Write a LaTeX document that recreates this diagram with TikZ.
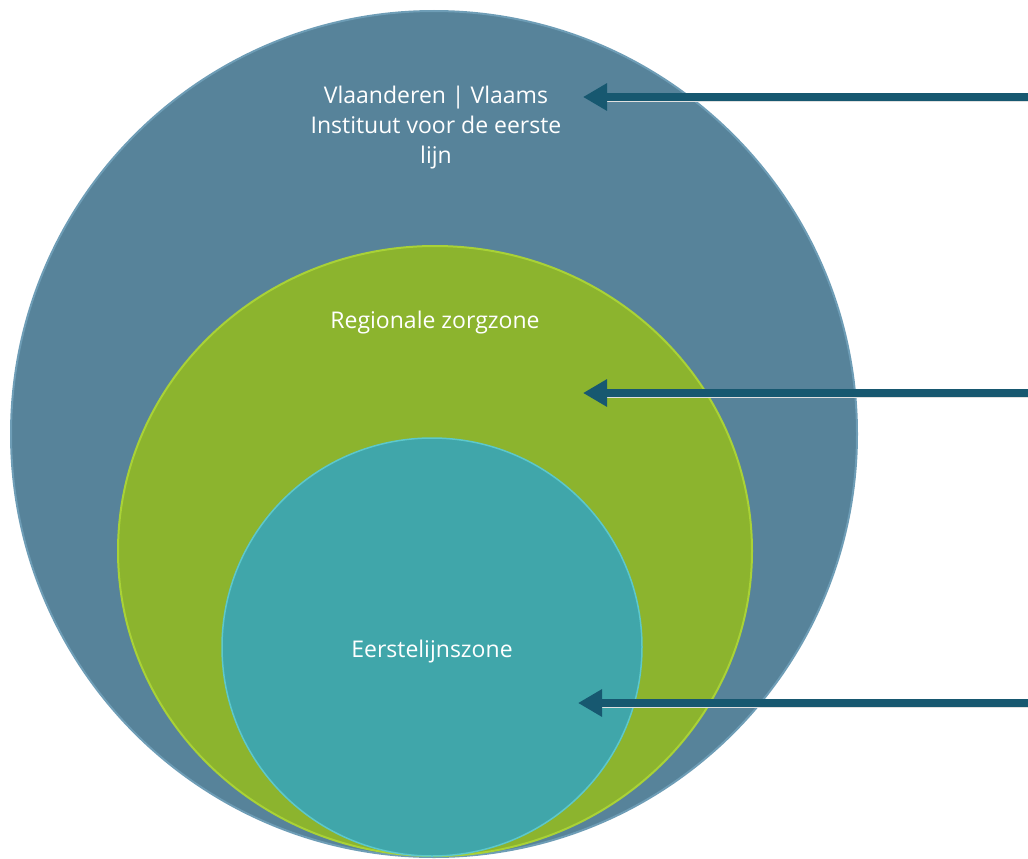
\documentclass[tikz,border=0pt]{standalone}
\usepackage{fontspec}
\setmainfont{Open Sans}
\usetikzlibrary{arrows.meta,positioning}
\tikzset{every picture/.style={line width=0.75pt}}

\definecolor{vlaamsblue}{HTML}{57839A}
\definecolor{vlaamsrim}{HTML}{6E9DB6}
\definecolor{regiogreen}{HTML}{8CB42E}
\definecolor{regiorim}{HTML}{A9D236}
\definecolor{eersteteal}{HTML}{40A6AA}
\definecolor{eersterim}{HTML}{5CC8CC}
\definecolor{pointerblue}{HTML}{175870}

\tikzset{
    zonelabel/.style={text=white, font=\fontsize{23}{30}\selectfont, align=center},
    pointer/.style={-{Triangle[length=24pt,width=26pt]}, line width=7.5pt, draw=pointerblue,
        preaction={draw=black!12, -, shorten >=20pt, transform canvas={yshift=-4pt}}}
}

\begin{document}
\begin{tikzpicture}[x=1pt, y=-1pt]
    \useasboundingbox (0,0) rectangle (1028,859);

    % zones
    \filldraw[fill=vlaamsblue, draw=vlaamsrim, line width=2pt]
        (434,434) ellipse [x radius=423pt, y radius=423pt];
    \filldraw[fill=regiogreen, draw=regiorim, line width=2pt]
        (435,551) ellipse [x radius=317pt, y radius=305pt];
    \filldraw[fill=eersteteal, draw=eersterim, line width=1.5pt]
        (432,647) ellipse [x radius=210pt, y radius=209pt];

    % labels
    \node[zonelabel] (vlaanderen) at (436,128) {Vlaanderen | Vlaams\\Instituut voor de eerste\\lijn};
    \node[zonelabel] (regio) at (435,323) {Regionale zorgzone};
    \node[zonelabel] (eerste) at (432,652) {Eerstelijnszone};

    % pijlen
    \foreach \y/\tx [count=\i] in {97/583, 393/583, 703/578} {
        \coordinate (start\i) at (1030,\y);
        \coordinate (tip\i) at (\tx,\y);
        \draw[pointer] (start\i) -- (tip\i);
    }
\end{tikzpicture}
\end{document}
